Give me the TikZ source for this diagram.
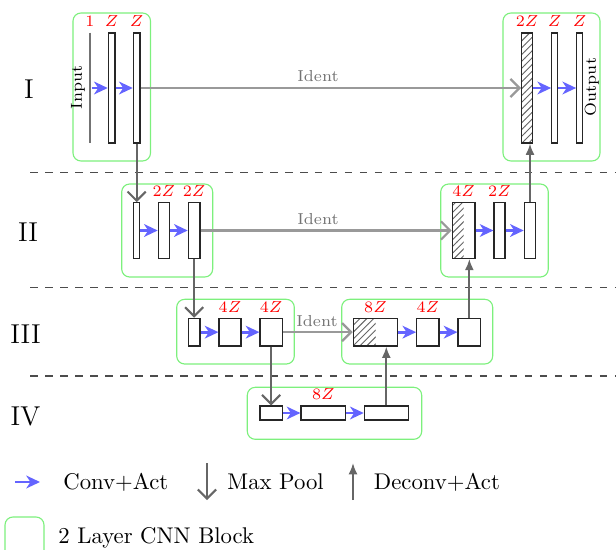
\documentclass[tikz,border=0pt]{standalone}
\usetikzlibrary{arrows.meta,patterns,fit}
\definecolor{convblue}{RGB}{100,100,255}
\definecolor{cnngreen}{RGB}{125,240,125}
\tikzset{
  blk/.style={draw=black!85, line width=0.5pt, fill=white, inner sep=0pt, fit={#1}},
  hblk/.style={draw=black!85, line width=0.5pt, inner sep=0pt, fit={#1}},
  cnn/.style={draw=cnngreen, line width=0.5pt, rounded corners=3.5pt, inner sep=0pt, fit={#1}},
  lab/.style={text=red, font=\scriptsize, inner sep=0.5pt, anchor=south},
  small/.style={font=\scriptsize, inner sep=0pt},
  identlab/.style={font=\scriptsize, text=black!55, inner sep=0pt},
  conv/.style={-{Stealth[length=6pt,width=5.6pt,inset=1.8pt]}, draw=convblue, line width=1.3pt},
  ident/.style={-{Straight Barb[length=4pt,width=8pt]}, draw=black!40, line width=1pt},
  pool/.style={-{Straight Barb[length=4pt,width=8pt]}, draw=black!60, line width=0.9pt},
  deconv/.style={-{Latex[length=5pt,width=4pt]}, draw=black!60, line width=0.9pt},
  sep/.style={draw=black!70, line width=0.6pt, dash pattern=on 3.3pt off 3.3pt},
  roman/.style={font=\large, inner sep=0pt},
  legtext/.style={anchor=base west, inner sep=0pt},
  hatch/.style={pattern=north east lines, pattern color=black!60}
}
\begin{document}
\begin{tikzpicture}[x=0.44pt, y=-0.44pt]
\useasboundingbox (0,0) rectangle (616,549);
\clip (0,0) rectangle (616,549);

% separators
\draw[sep] (30,172.5) -- (616,172.5);
\draw[sep] (30,287.5) -- (616,287.5);
\draw[sep] (30,376) -- (616,376);

% level numerals
\node[roman] (nI) at (29,89.5) {I};
\node[roman] (nII) at (28,232.5) {II};
\node[roman] (nIII) at (25.5,334) {III};
\node[roman] (nIV) at (25.5,416) {IV};

% green CNN blocks
\node[cnn={(73,13)(150.5,161)}] (g1l) {};
\node[cnn={(503,13)(600,161)}] (g1r) {};
\node[cnn={(121.7,184)(212.7,277)}] (g2l) {};
\node[cnn={(440.7,184)(548.3,277)}] (g2r) {};
\node[cnn={(176.7,299.3)(294.3,364)}] (g3l) {};
\node[cnn={(341.7,299.3)(492.7,364)}] (g3r) {};
\node[cnn={(247.3,387.3)(421.7,439.3)}] (g4) {};

% ---- level I
\node[inner sep=0pt, fit={(90,33)(90,143)}] (in0) {};
\draw[draw=black!55, line width=0.5pt] (in0.north) -- (in0.south);
\node[blk={(108.3,33)(115,143)}] (l1a) {};
\node[blk={(133.3,33)(140,143)}] (l1b) {};
\node[hblk={(521.7,33)(532.7,143)}, hatch] (r1h) {};
\node[blk={(551.7,33)(557.7,143)}] (r1a) {};
\node[blk={(576.7,33)(582.3,143)}] (r1b) {};
\node[small, rotate=90] (inl) at (78,87.5) {Input};
\node[small, rotate=90] (outl) at (591.7,87) {Output};
\node[lab] (t1) at ([yshift=1.8pt]in0.north) {$1$};
\node[lab] (t2) at ([yshift=1.8pt]l1a.north) {$Z$};
\node[lab] (t3) at ([yshift=1.8pt]l1b.north) {$Z$};
\node[lab] (t4) at ([yshift=1.8pt]r1h.north) {$2Z$};
\node[lab] (t5) at ([yshift=1.8pt]r1a.north) {$Z$};
\node[lab] (t6) at ([yshift=1.8pt]r1b.north) {$Z$};

% ---- level II
\node[blk={(133.3,202.7)(139.3,258.3)}] (l2a) {};
\node[blk={(158.3,202.7)(169.3,258.3)}] (l2b) {};
\node[blk={(188.3,202.7)(200,258.3)}] (l2c) {};
\fill[hatch] (452.3,202.7) rectangle (463.6,258.3);
\node[hblk={(452.3,202.7)(475,258.3)}] (r2h) {};
\node[blk={(494,202.7)(505,258.3)}] (r2a) {};
\node[blk={(524.3,202.7)(535.7,258.3)}] (r2b) {};
\node[lab] (t7) at ([yshift=1.8pt]l2b.north) {$2Z$};
\node[lab] (t8) at ([yshift=1.8pt]l2c.north) {$2Z$};
\node[lab] (t9) at ([yshift=1.8pt]r2h.north) {$4Z$};
\node[lab] (t10) at ([yshift=1.8pt]r2a.north) {$2Z$};

% ---- level III
\node[blk={(188.3,318.3)(200,346)}] (l3a) {};
\node[blk={(219,318.3)(241,346)}] (l3b) {};
\node[blk={(260,318.3)(282.3,346)}] (l3c) {};
\fill[hatch] (353.3,318.3) rectangle (375.5,346);
\node[hblk={(353.3,318.3)(397.7,346)}] (r3h) {};
\node[blk={(416.7,318.3)(439,346)}] (r3a) {};
\node[blk={(458,318.3)(480.7,346)}] (r3b) {};
\node[lab] (t11) at ([yshift=1.8pt]l3b.north) {$4Z$};
\node[lab] (t12) at ([yshift=1.8pt]l3c.north) {$4Z$};
\node[lab] (t13) at ([yshift=1.8pt]r3h.north) {$8Z$};
\node[lab] (t14) at ([yshift=1.8pt]r3a.north) {$4Z$};

% ---- level IV
\node[blk={(260,406)(282.3,420)}] (l4a) {};
\node[blk={(301,406)(345.7,420)}] (l4b) {};
\node[blk={(364.3,406)(408.3,420)}] (l4c) {};
\node[lab] (t15) at ([yshift=1.8pt]l4b.north) {$8Z$};

% conv arrows
\draw[conv] (in0.east) -- (l1a.west);
\draw[conv] (l1a.east) -- (l1b.west);
\draw[conv] (r1h.east) -- (r1a.west);
\draw[conv] (r1a.east) -- (r1b.west);
\draw[conv] (l2a.east) -- (l2b.west);
\draw[conv] (l2b.east) -- (l2c.west);
\draw[conv] (r2h.east) -- (r2a.west);
\draw[conv] (r2a.east) -- (r2b.west);
\draw[conv] (l3a.east) -- (l3b.west);
\draw[conv] (l3b.east) -- (l3c.west);
\draw[conv] (r3h.east) -- (r3a.west);
\draw[conv] (r3a.east) -- (r3b.west);
\draw[conv] (l4a.east) -- (l4b.west);
\draw[conv] (l4b.east) -- (l4c.west);

% identity skips
\draw[ident] (l1b.east) -- (r1h.west);
\draw[ident] (l2c.east) -- (r2h.west);
\draw[ident] (l3c.east) -- (r3h.west);
\node[identlab] (id1) at (318,76.5) {Ident};
\node[identlab] (id2) at (318,219.5) {Ident};
\node[identlab] (id3) at (317,321.5) {Ident};

% max pool
\draw[pool] (l1b.south) -- (l1b.south |- l2a.north);
\draw[pool] (l2c.south) -- (l2c.south |- l3a.north);
\draw[pool] (l3c.south) -- (l3c.south |- l4a.north);

% deconv
\draw[deconv] (r2b.north) -- (r2b.north |- r1h.south);
\draw[deconv] (r3b.north) -- (r3b.north |- r2h.south);
\draw[deconv] (l4c.north) -- (l4c.north |- r3h.south);

% legend
\coordinate (lc1) at (15,482);
\coordinate (lc2) at (40,482);
\draw[conv] (lc1) -- (lc2);
\node[legtext] (lt1) at (63,489.5) {Conv+Act};
\coordinate (lp1) at (207,463);
\coordinate (lp2) at (207,500);
\draw[pool] (lp1) -- (lp2);
\node[legtext] (lt2) at (227,489.5) {Max Pool};
\coordinate (ld1) at (353,500);
\coordinate (ld2) at (353,463);
\draw[deconv] (ld1) -- (ld2);
\node[legtext] (lt3) at (373.5,489.5) {Deconv+Act};
\node[cnn={(5,517)(44,575)}] (lg) {};
\node[legtext] (lt4) at (58,543.3) {2 Layer CNN Block};
\end{tikzpicture}
\end{document}
